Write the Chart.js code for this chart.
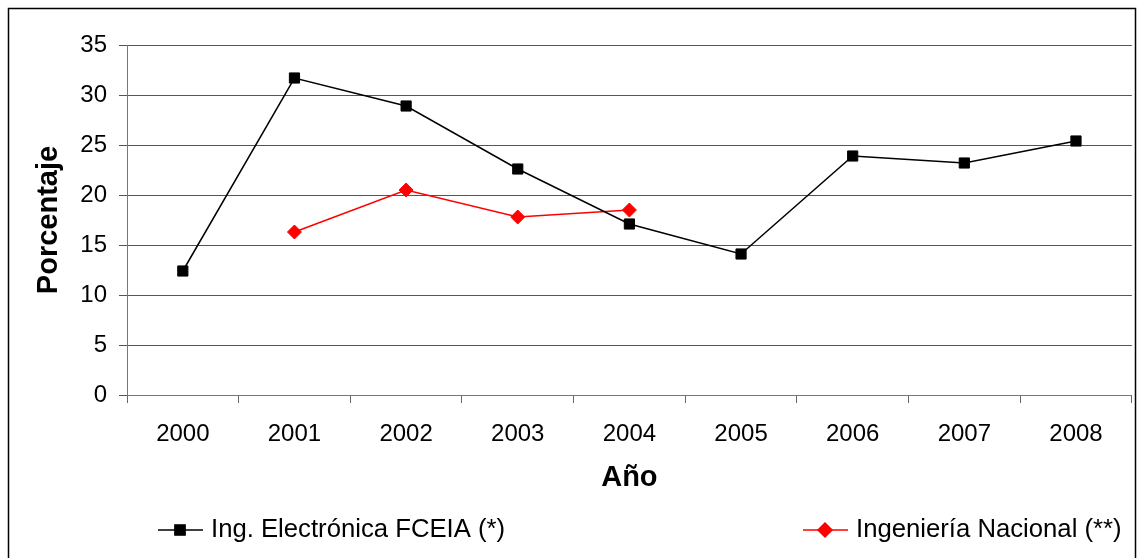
<!DOCTYPE html>
<html>
<head>
<meta charset="utf-8">
<script src="https://cdn.jsdelivr.net/npm/chart.js@4.4.1/dist/chart.umd.min.js"></script>
<style>
  html, body { margin: 0; padding: 0; background: #fff; }
  #wrap { width: 1140px; height: 558px; position: relative; }
</style>
</head>
<body>
<div id="wrap"><canvas id="myChart" width="1140" height="558"></canvas></div>
<script>
// data
var years = ['2000', '2001', '2002', '2003', '2004', '2005', '2006', '2007', '2008'];
var fceia = [12.4, 31.7, 28.9, 22.6, 17.1, 14.1, 23.9, 23.2, 25.4];
var nacional = [null, 16.3, 20.5, 17.8, 18.5, null, null, null, null];
var seriesNames = ['Ing. Electrónica FCEIA (*)', 'Ingeniería Nacional (**)'];
var yTicks = [0, 5, 10, 15, 20, 25, 30, 35];

var FONT = '"Liberation Sans", Arial, sans-serif';

// outer frame + legend like the Excel one
var frameAndLegend = {
    id: 'frameAndLegend',
    beforeDraw: function (chart) {
        var c = chart.ctx;
        c.save();
        c.fillStyle = '#fff';
        c.fillRect(0, 0, chart.width, chart.height);
        c.strokeStyle = '#000';
        c.lineWidth = 1.5;
        c.strokeRect(8.5, 8.5, 1127, 560);
        c.restore();
    },
    afterDraw: function (chart) {
        var c = chart.ctx;
        var y = 530;
        var items = [{ x: 158, ds: 0 }, { x: 803, ds: 1 }];
        c.save();
        items.forEach(function (it) {
            var ds = chart.data.datasets[it.ds];
            c.strokeStyle = ds.borderColor;
            c.lineWidth = 1.5;
            c.beginPath();
            c.moveTo(it.x, y);
            c.lineTo(it.x + 45, y);
            c.stroke();
            Chart.helpers.drawPoint(c, {
                pointStyle: ds.pointStyle,
                radius: ds.pointRadius,
                borderWidth: 1
            }, it.x + 22, y);
            c.fillStyle = ds.borderColor;
            c.fill();
            c.fillStyle = '#000';
            c.font = '25.7px ' + FONT;
            c.textBaseline = 'middle';
            c.fillText(ds.label, it.x + 53, y);
        });
        c.restore();
    }
};

var ctx = document.getElementById('myChart').getContext('2d');
var chart = new Chart(ctx, {
    type: 'line',
    data: {
        labels: years,
        datasets: [{
            label: seriesNames[0],
            data: fceia,
            borderColor: '#000',
            backgroundColor: '#000',
            borderWidth: 1.5,
            pointStyle: 'rect',
            pointRadius: 7.2,
            pointBorderWidth: 1,
            tension: 0
        }, {
            label: seriesNames[1],
            data: nacional,
            borderColor: '#ff0000',
            backgroundColor: '#ff0000',
            borderWidth: 1.5,
            pointStyle: 'rectRot',
            pointRadius: 7,
            pointBorderWidth: 1,
            spanGaps: false,
            tension: 0
        }]
    },
    options: {
        responsive: false,
        animation: false,
        layout: { padding: { left: 32, top: 45, right: 6, bottom: 63 } },
        plugins: { legend: { display: false }, tooltip: { enabled: false } },
        scales: {
            x: {
                offset: true,
                grid: { drawOnChartArea: false, offset: true, tickLength: 8, color: '#666', lineWidth: 1 },
                border: { color: '#777', width: 1 },
                ticks: { color: '#000', font: { family: FONT, size: 24 }, padding: 17, maxRotation: 0 },
                title: { display: true, text: 'Año', color: '#000', font: { family: FONT, size: 29, weight: 'bold' }, padding: 0 },
                afterFit: function (s) { s.height = 100; }
            },
            y: {
                min: 0,
                max: 35,
                afterBuildTicks: function (s) { s.ticks = yTicks.map(function (v) { return { value: v }; }); },
                grid: { color: '#555', lineWidth: 1, tickLength: 8 },
                border: { color: '#777', width: 1 },
                ticks: { color: '#000', font: { family: FONT, size: 24 }, padding: 12 },
                title: { display: true, text: 'Porcentaje', color: '#000', font: { family: FONT, size: 29, weight: 'bold' }, padding: 0 },
                afterFit: function (s) { s.width = 95; }
            }
        }
    },
    plugins: [frameAndLegend]
});
</script>
</body>
</html>
